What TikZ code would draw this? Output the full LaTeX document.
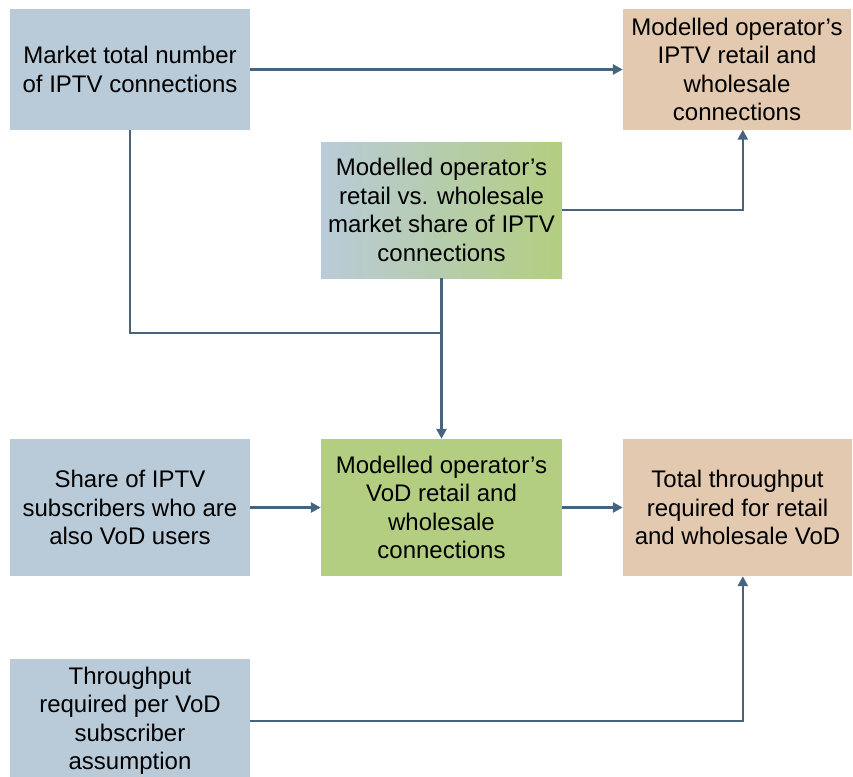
\documentclass[tikz,border=0pt]{standalone}
\usepackage{fontspec}
\setmainfont{Liberation Sans}
\usetikzlibrary{arrows.meta,calc}
\definecolor{inputblue}{HTML}{B9CBD9}
\definecolor{outputtan}{HTML}{E2C9AF}
\definecolor{calcgreen}{HTML}{B3CE80}
\definecolor{linkblue}{HTML}{46647E}
\begin{document}
\begin{tikzpicture}[x=1pt,y=-1pt,
  box/.style={rectangle, inner sep=0pt, align=center, text=black,
    font=\fontsize{24}{28.5}\selectfont},
  input/.style={box, fill=inputblue},
  output/.style={box, fill=outputtan},
  calc/.style={box, fill=calcgreen},
  link/.style={draw=linkblue, line width=2.6pt},
  arrow/.style={link, -{Triangle[length=10pt,width=10pt]}}]
\useasboundingbox (0,0) rectangle (853,776);

% boxes
\node[input, minimum width=240pt, minimum height=120pt] (market) at (130,69.5)
  {Market total number\\of IPTV connections};
\node[output, minimum width=228pt, minimum height=120pt] (iptvconn) at (737,69.5)
  {Modelled operator’s\\IPTV retail and\\wholesale\\connections};
\node[box, left color=inputblue, right color=calcgreen, minimum width=241pt, minimum height=136pt] (share) at (441.5,210)
  {Modelled operator’s\\retail vs. wholesale\\market share of IPTV\\connections};
\node[input, minimum width=240pt, minimum height=137pt] (vodshare) at (130,507.5)
  {Share of IPTV\\subscribers who are\\also VoD users};
\node[calc, minimum width=241pt, minimum height=137pt] (vodconn) at (441.5,507.5)
  {Modelled operator’s\\VoD retail and\\wholesale\\connections};
\node[output, minimum width=229pt, minimum height=137pt] (total) at (737.5,507.5)
  {Total throughput\\required for retail\\and wholesale VoD};
\node[input, minimum width=240pt, minimum height=124pt] (persub) at (130,721)
  {Throughput\\required per VoD\\subscriber\\assumption};

% connectors
\coordinate (join) at (share.south |- 0,333);
\coordinate (tiptop) at ($(iptvconn.south west)+(120,0)$);
\coordinate (tipbottom) at ($(total.south west)+(120,0)$);
\draw[arrow] (market.east) -- (iptvconn.west |- market.east);
\draw[arrow] (share.east) -| (tiptop);
\draw[link] (market.south) |- (join);
\draw[arrow] (share.south) -- (vodconn.north);
\draw[arrow] (vodshare.east) -- (vodconn.west);
\draw[arrow] (vodconn.east) -- (total.west);
\draw[arrow] (persub.east) -| (tipbottom);
\end{tikzpicture}
\end{document}
